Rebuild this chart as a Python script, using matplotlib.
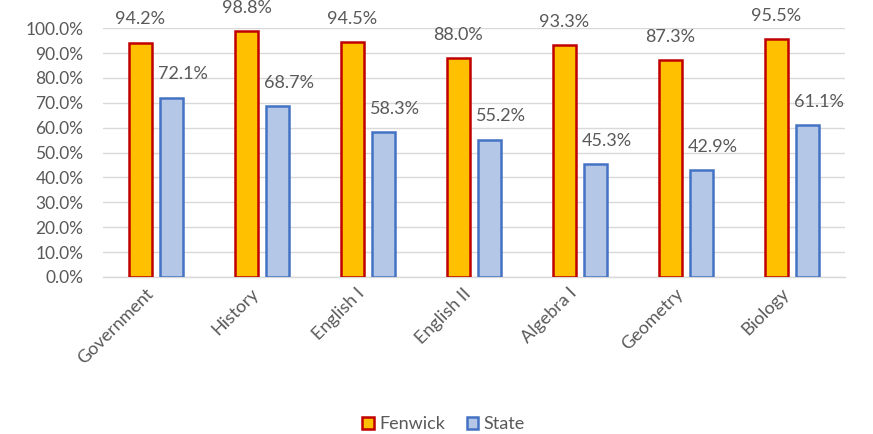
import matplotlib
matplotlib.use("Agg")
import matplotlib.pyplot as plt
import numpy as np
from matplotlib.patches import Patch
from matplotlib.ticker import FuncFormatter

categories = ["Government", "History", "English I", "English II", "Algebra I", "Geometry", "Biology"]
fenwick = [94.2, 98.8, 94.5, 88.0, 93.3, 87.3, 95.5]
state = [72.1, 68.7, 58.3, 55.2, 45.3, 42.9, 61.1]

plt.rcParams['font.family'] = ['Lato', 'DejaVu Sans']
txt = '#595959'
grid = '#D9D9D9'
fs = 13

fig = plt.figure(figsize=(8.73, 4.34), dpi=100)
ax = fig.add_axes([0.118, 0.362, 0.85, 0.573])

x = np.arange(len(categories))
w = 0.22
off = 0.147
b1 = ax.bar(x - off, fenwick, w, color='#FFC000', edgecolor='#C00000', linewidth=1.8, zorder=3)
b2 = ax.bar(x + off, state, w, color='#B4C7E7', edgecolor='#4472C4', linewidth=1.8, zorder=3)

for rects, vals, dx in ((b1, fenwick, 0), (b2, state, 8)):
    for r, v in zip(rects, vals):
        ax.annotate(f"{v:.1f}%", (r.get_x() + r.get_width() / 2, v),
                    xytext=(dx, 11), textcoords='offset points', ha='center', va='bottom',
                    fontsize=fs, color=txt, annotation_clip=False)

ax.set_xlim(-0.5, len(categories) - 0.5)
ax.set_ylim(0, 100)
ax.set_yticks(np.arange(0, 101, 10))
ax.yaxis.set_major_formatter(FuncFormatter(lambda v, p: f"{v:.1f}%"))
ax.set_xticks(x)
ax.set_xticklabels(categories, rotation=45, ha='right', va='top', rotation_mode='default')
ax.tick_params(axis='y', length=0, pad=14, labelsize=fs - 0.5, labelcolor=txt)
ax.tick_params(axis='x', length=0, pad=6, labelsize=fs, labelcolor=txt)
ax.yaxis.grid(True, color=grid, linewidth=1.0, zorder=0)
for s in ('top', 'right', 'left'):
    ax.spines[s].set_visible(False)
ax.spines['bottom'].set_color(grid)
ax.spines['bottom'].set_linewidth(1.0)

handles = [Patch(facecolor='#FFC000', edgecolor='#C00000', linewidth=1.8, label='Fenwick'),
           Patch(facecolor='#B4C7E7', edgecolor='#4472C4', linewidth=1.8, label='State')]
leg = fig.legend(handles=handles, loc='center', bbox_to_anchor=(0.508, 0.023), ncol=2, frameon=False,
                 fontsize=fs, handlelength=0.65, handleheight=0.65, handletextpad=0.3, columnspacing=1.2)
for t in leg.get_texts():
    t.set_color(txt)

fig.savefig('out.png', dpi=100)
